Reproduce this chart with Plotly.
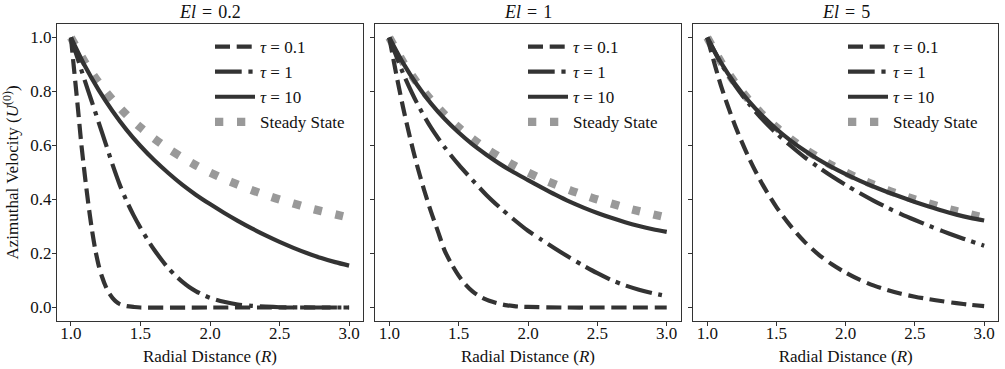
import plotly.graph_objects as go

# ---------------- data ----------------
EL_LABELS = ["0.2", "1", "5"]
TAU_LABELS = ["0.1", "1", "10"]

R_STEP = [1.0, 1.1, 1.2, 1.3, 1.4, 1.5, 1.6, 1.7, 1.8, 1.9, 2.0,
          2.1, 2.2, 2.3, 2.4, 2.5, 2.6, 2.7, 2.8, 2.9, 3.0]

R_SS = R_STEP
U_SS = [1.0, 0.909, 0.833, 0.769, 0.714, 0.667, 0.625, 0.588, 0.556, 0.526, 0.5,
        0.476, 0.455, 0.435, 0.417, 0.4, 0.385, 0.37, 0.357, 0.345, 0.333]

# El = 0.2
R_A_T01 = [1.0, 1.025, 1.05, 1.075, 1.1, 1.125, 1.15, 1.175, 1.2, 1.225, 1.25, 1.275,
           1.3, 1.325, 1.35, 1.375, 1.4, 1.45, 1.5, 2.0, 2.5, 3.0]
U_A_T01 = [1.0, 0.87, 0.74, 0.605, 0.49, 0.385, 0.292, 0.215, 0.155, 0.112, 0.078, 0.053,
           0.035, 0.022, 0.013, 0.008, 0.005, 0.002, 0.0, 0.0, 0.0, 0.0]
R_A_T1 = [1.0, 1.05, 1.1, 1.15, 1.2, 1.25, 1.3, 1.35, 1.4, 1.45, 1.5, 1.55, 1.6, 1.65,
          1.7, 1.75, 1.8, 1.85, 1.9, 1.95, 2.0, 2.1, 2.2, 2.3, 2.4, 2.5, 2.75, 3.0]
U_A_T1 = [1.0, 0.92, 0.84, 0.763, 0.685, 0.607, 0.528, 0.456, 0.395, 0.342, 0.295, 0.252, 0.213, 0.178,
          0.146, 0.119, 0.096, 0.076, 0.06, 0.047, 0.036, 0.021, 0.011, 0.006, 0.003, 0.001, 0.0, 0.0]
R_A_T10 = R_STEP
U_A_T10 = [1.0, 0.895, 0.805, 0.727, 0.658, 0.598, 0.545, 0.498, 0.455, 0.417, 0.383,
           0.351, 0.321, 0.293, 0.267, 0.243, 0.221, 0.201, 0.183, 0.168, 0.155]

# El = 1
R_B_T01 = [1.0, 1.05, 1.1, 1.15, 1.2, 1.25, 1.3, 1.35, 1.4, 1.45, 1.5, 1.55, 1.6, 1.65,
           1.7, 1.75, 1.8, 1.85, 1.9, 1.95, 2.0, 2.25, 2.5, 2.75, 3.0]
U_B_T01 = [1.0, 0.865, 0.74, 0.628, 0.527, 0.437, 0.356, 0.283, 0.21, 0.16, 0.118, 0.085, 0.06, 0.042,
           0.029, 0.02, 0.013, 0.008, 0.005, 0.003, 0.002, 0.0, 0.0, 0.0, 0.0]
R_B_T1 = R_STEP
U_B_T1 = [1.0, 0.867, 0.757, 0.667, 0.593, 0.529, 0.472, 0.417, 0.369, 0.325, 0.284,
          0.25, 0.217, 0.185, 0.155, 0.127, 0.102, 0.082, 0.066, 0.053, 0.042]
R_B_T10 = R_STEP
U_B_T10 = [1.0, 0.905, 0.825, 0.756, 0.698, 0.648, 0.604, 0.566, 0.531, 0.5, 0.472,
           0.444, 0.417, 0.392, 0.37, 0.35, 0.332, 0.316, 0.302, 0.29, 0.28]

# El = 5
R_C_T01 = R_STEP
U_C_T01 = [1.0, 0.82, 0.675, 0.555, 0.455, 0.372, 0.303, 0.245, 0.198, 0.16, 0.129,
           0.103, 0.082, 0.065, 0.051, 0.04, 0.031, 0.023, 0.016, 0.01, 0.005]
R_C_T1 = R_STEP
U_C_T1 = [1.0, 0.903, 0.823, 0.755, 0.696, 0.645, 0.6, 0.558, 0.521, 0.486, 0.454,
          0.424, 0.396, 0.37, 0.346, 0.324, 0.303, 0.283, 0.264, 0.246, 0.229]
R_C_T10 = R_STEP
U_C_T10 = [1.0, 0.906, 0.829, 0.764, 0.709, 0.661, 0.619, 0.582, 0.549, 0.52, 0.494,
           0.47, 0.448, 0.428, 0.409, 0.391, 0.374, 0.358, 0.344, 0.332, 0.322]

PANELS = [
    [(R_A_T01, U_A_T01), (R_A_T1, U_A_T1), (R_A_T10, U_A_T10)],
    [(R_B_T01, U_B_T01), (R_B_T1, U_B_T1), (R_B_T10, U_B_T10)],
    [(R_C_T01, U_C_T01), (R_C_T1, U_C_T1), (R_C_T10, U_C_T10)],
]

# ---------------- style ----------------
FONT = "Liberation Serif, Times New Roman, serif"
FS = 17
TXT = "#111111"
DARK = "#333333"
GRAY = "#999999"
LW = 4.2
DASHES = ["15px,6.7px", "26.7px,6.7px,4.2px,6.7px", "solid"]

W, H = 1005, 369
ML, MR, MT, MB = 57, 7, 24, 48
PW = W - ML - MR
PH = H - MT - MB
DOMAINS = [(0.0, 306 / PW), (318.4 / PW, 623.6 / PW), (636.4 / PW, 1.0)]

fig = go.Figure()

for p, series in enumerate(PANELS):
    xa = "x" if p == 0 else f"x{p+1}"
    ya = "y" if p == 0 else f"y{p+1}"
    lg = "legend" if p == 0 else f"legend{p+1}"
    fig.add_trace(go.Scatter(
        x=R_SS, y=U_SS, mode="lines", name="Steady State",
        line=dict(color=GRAY, width=8.3, dash="8.3px,13.7px", shape="spline", smoothing=0.8),
        xaxis=xa, yaxis=ya, legend=lg, legendrank=4, legendgroup=f"p{p}ss",
    ))
    for k, (rr, uu) in enumerate(series):
        fig.add_trace(go.Scatter(
            x=rr, y=uu, mode="lines", name=f"<i>τ</i> = {TAU_LABELS[k]}",
            line=dict(color=DARK, width=LW, dash=DASHES[k], shape="spline", smoothing=0.8),
            xaxis=xa, yaxis=ya, legend=lg, legendrank=k + 1, legendgroup=f"p{p}t{k}",
        ))

axis_common = dict(
    showline=True, mirror=True, linecolor=DARK, linewidth=1,
    ticks="outside", ticklen=4, tickwidth=1, tickcolor=DARK,
    showgrid=False, zeroline=False, automargin=False,
    tickfont=dict(family=FONT, size=FS, color=TXT),
)

layout = dict(
    width=W, height=H,
    margin=dict(l=ML, r=MR, t=MT, b=MB, autoexpand=False),
    paper_bgcolor="white", plot_bgcolor="white",
    font=dict(family=FONT, size=FS, color=TXT),
    showlegend=True,
)

legend_left = [153, 466, 786]
annotations = []
for p in range(3):
    xk = "xaxis" if p == 0 else f"xaxis{p+1}"
    yk = "yaxis" if p == 0 else f"yaxis{p+1}"
    layout[xk] = dict(axis_common, domain=list(DOMAINS[p]), range=[0.9, 3.1],
                      tickvals=[1.0, 1.5, 2.0, 2.5, 3.0], ticktext=["1.0", "1.5", "2.0", "2.5", "3.0"],
                      ticklabelstandoff=-7,
                      title=dict(text="Radial Distance (<i>R</i>)", standoff=7,
                                 font=dict(family=FONT, size=FS, color=TXT)),
                      anchor="y" if p == 0 else f"y{p+1}")
    ydict = dict(axis_common, domain=[0, 1], range=[-0.05, 1.05],
                 tickvals=[0.0, 0.2, 0.4, 0.6, 0.8, 1.0],
                 ticktext=["0.0", "0.2", "0.4", "0.6", "0.8", "1.0"],
                 anchor="x" if p == 0 else f"x{p+1}")
    if p == 0:
        ydict["ticklabelstandoff"] = -3
        ydict["title"] = dict(text="Azimuthal Velocity (<i>U</i><sup>(0)</sup>)", standoff=13,
                              font=dict(family=FONT, size=FS, color=TXT))
    else:
        ydict["showticklabels"] = False
        ydict["matches"] = "y"
    layout[yk] = ydict
    lk = "legend" if p == 0 else f"legend{p+1}"
    layout[lk] = dict(x=legend_left[p] / PW, y=1 - 5 / PH, xanchor="left", yanchor="top",
                      bgcolor="rgba(0,0,0,0)", borderwidth=0, itemwidth=40,
                      tracegroupgap=2.5, font=dict(family=FONT, size=FS, color=TXT),
                      traceorder="normal")
    cx = (DOMAINS[p][0] + DOMAINS[p][1]) / 2
    annotations.append(dict(text=f"<i>El</i>\u2004=\u2004{EL_LABELS[p]}", x=cx, y=1, xref="paper", yref="paper",
                            xanchor="center", yanchor="bottom", yshift=0, showarrow=False,
                            font=dict(family=FONT, size=18, color=TXT)))
layout["annotations"] = annotations

fig.update_layout(**layout)
fig.write_html("out.html", config={"displayModeBar": False},
               post_script="document.body.style.margin='0px';")
